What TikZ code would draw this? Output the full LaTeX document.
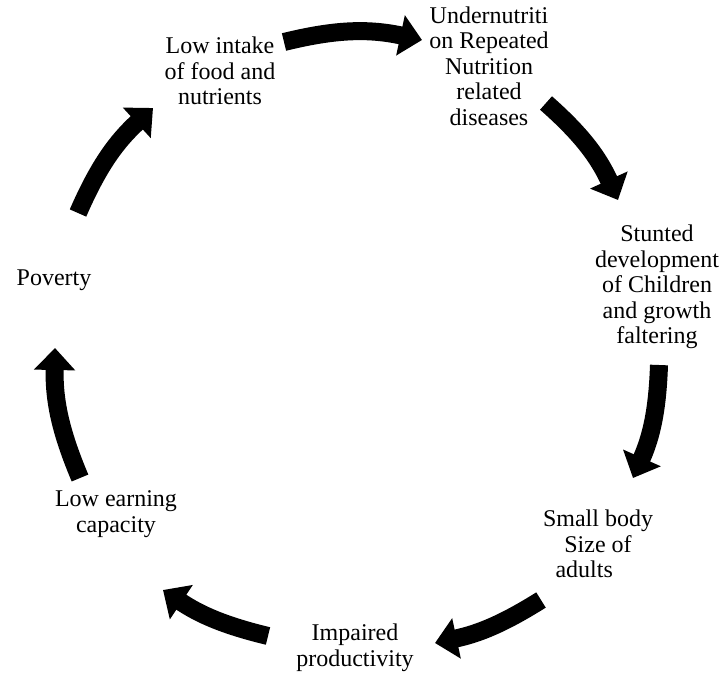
\documentclass[tikz,border=0pt]{standalone}
\usepackage{fontspec}
\setmainfont{Liberation Serif}
\usetikzlibrary{arrows.meta}
\begin{document}
\begin{tikzpicture}[x=1pt,y=-1pt,
  lbl/.style={align=center,inner sep=0pt,font=\fontsize{24}{25.5}\selectfont},
  cyc/.style={line width=18pt,-{Triangle[width=40pt,length=22pt]}}]
\useasboundingbox (0,0) rectangle (723,673);
% labels
\node[lbl] (intake)   at (220,71)  {Low intake\\of food and\\nutrients};
\node[lbl] (under)    at (489,66)  {Undernutriti\\on Repeated\\Nutrition\\related\\diseases};
\node[lbl] (stunted)  at (657,287) {Stunted\\development\\of Children\\and growth\\faltering};
\node[lbl] (small)    at (598,544) {Small body\\Size of\\\makebox[85pt][l]{adults}};
\node[lbl] (impaired) at (355,648) {Impaired\\productivity};
\node[lbl] (earning)  at (116,514) {Low earning\\capacity};
\node[lbl] (poverty)  at (54,280)  {Poverty};
% arrow ends
\coordinate (t1) at (284,42);  \coordinate (h1) at (422,40);
\coordinate (t2) at (546,103); \coordinate (h2) at (618,200);
\coordinate (t3) at (659,365); \coordinate (h3) at (633,478);
\coordinate (t4) at (541,600); \coordinate (h4) at (435,643);
\coordinate (t5) at (268,636); \coordinate (h5) at (163,590);
\coordinate (t6) at (80,478);  \coordinate (h6) at (55,348);
\coordinate (t7) at (78,213);  \coordinate (h7) at (153,108);
% arrows
\draw[cyc] (t1) to[bend left=13] (h1);
\draw[cyc] (t2) to[bend left=12] (h2);
\draw[cyc] (t3) to[bend left=11] (h3);
\draw[cyc] (t4) to[bend left=10] (h4);
\draw[cyc] (t5) to[bend left=10] (h5);
\draw[cyc] (t6) to[bend left=12] (h6);
\draw[cyc] (t7) to[bend left=12] (h7);
\end{tikzpicture}
\end{document}
